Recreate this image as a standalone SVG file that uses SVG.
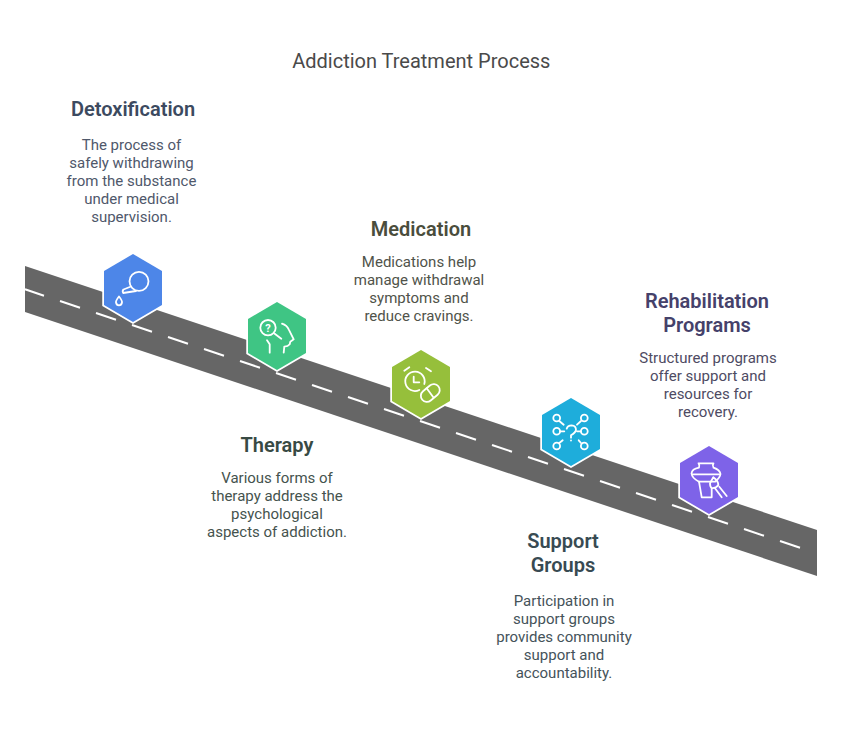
<svg xmlns="http://www.w3.org/2000/svg" width="842" height="734" viewBox="0 0 842 734">
<style>
text{font-family:Roboto,"Liberation Sans",sans-serif;text-anchor:middle}
.t{font-size:20px;font-weight:600}
.b{font-size:15px}
.i{fill:none;stroke:#fff;stroke-width:1.8;stroke-linecap:round;stroke-linejoin:round}
.h{stroke:#fff;stroke-width:3.5;paint-order:stroke}
</style>
<rect width="842" height="734" fill="#fff"/>
<text x="421.300" y="68" style="font-size:20px;fill:#4a4a4a">Addiction Treatment Process</text>
<g id="connectors">
<polygon points="25,266 817,530 817,576 25,312" fill="#666"/>
<path d="M25,289.300L44,295.700M60,301L80,307.700M96,313L116,319.700M132,325L152,331.700M168,337L188,343.700M204,349L224,355.700M240,361L260,367.700M276,373L296,379.700M312,385L332,391.700M348,397L368,403.700M384,409L404,415.700M420,421L440,427.700M456,433L476,439.700M492,445L512,451.700M528,457L548,463.700M564,469L584,475.700M600,481L620,487.700M636,493L656,499.700M672,505L692,511.700M708,517L728,523.700M744,529L764,535.700M780,541L800,547.700" stroke="#fff" stroke-width="2" fill="none"/>
</g>
<g id="detoxification" fill="#4f586b">
<polygon class="h" points="133,254 162,271 162,305 133,322 104,305 104,271" fill="#4d86e8"/>
<g class="i"><circle cx="139" cy="281.300" r="9.500"/><path d="M131,286.500L123.500,289.500Q122,291 123.200,293L136,291"/><path d="M119,296.500Q115.500,301 116,302.500Q116.500,305.300 119,305.300Q121.500,305.300 122,302.500Q122.500,301 119,296.500Z"/></g>
<text class="t" x="133" y="116" fill="#3c4a60">Detoxification</text>
<text class="b" x="131.500" y="150">The process of</text>
<text class="b" x="131.500" y="168">safely withdrawing</text>
<text class="b" x="131.500" y="186">from the substance</text>
<text class="b" x="131.500" y="204">under medical</text>
<text class="b" x="131.500" y="222">supervision.</text>
</g>
<g id="therapy" fill="#45534e">
<polygon class="h" points="277,302 306,319 306,353 277,370 248,353 248,319" fill="#3fc584"/>
<g class="i"><circle cx="268" cy="327.700" r="7.700"/><path d="M274.700,333.700L281.300,338.700"/><path d="M282,323.700Q287,325.500 288.700,329.300L293.700,339.300L290.300,341.700L289.700,344.300Q288,346.500 284.300,346.700L283.700,352.700"/><path d="M267,340.300L269.700,344.300V352.700"/></g>
<text x="268" y="331.500" style="font-size:11px;font-weight:700;fill:#fff">?</text>
<text class="t" x="277" y="452" fill="#384a44">Therapy</text>
<text class="b" x="277" y="483">Various forms of</text>
<text class="b" x="277" y="501">therapy address the</text>
<text class="b" x="277" y="519">psychological</text>
<text class="b" x="277" y="537">aspects of addiction.</text>
</g>
<g id="medication" fill="#50534a">
<polygon class="h" points="421,350 450,367 450,401 421,418 392,401 392,367" fill="#96bf3b"/>
<g class="i"><path d="M424.300,384A9.700,9.700 0 1 0 419.300,390"/><path d="M413.700,376.700V382.300H419.300"/><path d="M404.300,370.700L409.300,367.300M426,368L431,371.300"/><rect x="419.800" y="387" width="21" height="12" rx="6" transform="rotate(-40 430.300 393)"/><path d="M426.700,388.300L433.300,397.300"/></g>
<text class="t" x="421" y="236" fill="#4a4d3c">Medication</text>
<text class="b" x="419" y="267">Medications help</text>
<text class="b" x="419" y="285">manage withdrawal</text>
<text class="b" x="419" y="303">symptoms and</text>
<text class="b" x="419" y="321">reduce cravings.</text>
</g>
<g id="support-groups" fill="#45535a">
<polygon class="h" points="571,398 600,415 600,449 571,466 542,449 542,415" fill="#1eaddb"/>
<g class="i"><circle cx="556.700" cy="418" r="3.400"/><circle cx="584.300" cy="418" r="3.400"/><circle cx="556.700" cy="431.300" r="3.400"/><circle cx="584.300" cy="431.300" r="3.400"/><circle cx="556.700" cy="446" r="3.400"/><circle cx="584.300" cy="446" r="3.400"/><path d="M559.300,421L563.700,424.700M581,421L577,424.700M560,431.300H564.300M581,431.300H577M559.300,443L562.700,440.300M581,443L578.700,440.300"/><path d="M566.700,428.700Q567.500,425.300 571.700,425.300Q576,425.500 576,430Q575.500,432.500 571,435.300V437.700M571,440.300V440.600"/></g>
<text class="t" x="563" y="548" fill="#384a52">Support</text>
<text class="t" x="563" y="572" fill="#384a52">Groups</text>
<text class="b" x="564" y="606">Participation in</text>
<text class="b" x="564" y="624">support groups</text>
<text class="b" x="564" y="642">provides community</text>
<text class="b" x="564" y="660">support and</text>
<text class="b" x="564" y="678">accountability.</text>
</g>
<g id="rehabilitation-programs" fill="#4e4b63">
<polygon class="h" points="709,446 738,463 738,497 709,514 680,497 680,463" fill="#7e63e8"/>
<g class="i"><path d="M698.500,463.300H713.500Q712,465.500 713.500,467.700Q720,470 720.500,474Q720,478 715,481.700H699Q692,478 691.500,473.500Q692,469 699,467.700Q700,465.500 698.500,463.300Z"/><path d="M692.500,474.300H719.500"/><path d="M699,481.700L701.700,497.300H711.700V488.300"/><path d="M713.300,477.300L710,483.300Q710,487 711.700,488Q716,488.500 718.300,485Q718.300,481 713.300,477.300Z"/><path d="M715,488.300L721.700,497.300M719.300,486.700L726.700,496"/></g>
<text class="t" x="707" y="308" fill="#45416a">Rehabilitation</text>
<text class="t" x="707" y="332" fill="#45416a">Programs</text>
<text class="b" x="708" y="363">Structured programs</text>
<text class="b" x="708" y="381">offer support and</text>
<text class="b" x="708" y="399">resources for</text>
<text class="b" x="708" y="417">recovery.</text>
</g>
</svg>
